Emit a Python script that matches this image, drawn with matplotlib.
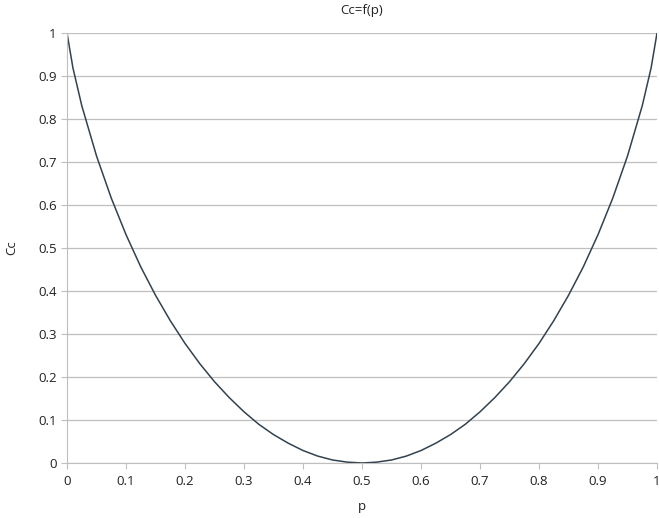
import matplotlib
matplotlib.use('Agg')
import matplotlib.pyplot as plt

# Valores
p = [0.0, 0.01, 0.025, 0.05, 0.075, 0.1, 0.125, 0.15, 0.175, 0.2, 0.225, 0.25,
     0.275, 0.3, 0.325, 0.35, 0.375, 0.4, 0.425, 0.45, 0.475, 0.5,
     0.525, 0.55, 0.575, 0.6, 0.625, 0.65, 0.675, 0.7, 0.725, 0.75,
     0.775, 0.8, 0.825, 0.85, 0.875, 0.9, 0.925, 0.95, 0.975, 0.99, 1.0]
cc = [1.0, 0.919, 0.831, 0.714, 0.616, 0.531, 0.456, 0.390, 0.331, 0.278, 0.231, 0.189,
      0.152, 0.119, 0.090, 0.066, 0.046, 0.029, 0.016, 0.007, 0.002, 0.0,
      0.002, 0.007, 0.016, 0.029, 0.046, 0.066, 0.090, 0.119, 0.152, 0.189,
      0.231, 0.278, 0.331, 0.390, 0.456, 0.531, 0.616, 0.714, 0.831, 0.919, 1.0]

xticks = [0, 0.1, 0.2, 0.3, 0.4, 0.5, 0.6, 0.7, 0.8, 0.9, 1]
yticks = [0, 0.1, 0.2, 0.3, 0.4, 0.5, 0.6, 0.7, 0.8, 0.9, 1]

plt.rcParams['font.family'] = ['Open Sans', 'DejaVu Sans']

fig = plt.figure(figsize=(6.59, 5.18), dpi=100)
ax = fig.add_axes([0.1017, 0.1062, 0.8953, 0.8301])

ax.plot(p, cc, color='#33424f', linewidth=1.1)

ax.set_xlim(0, 1)
ax.set_ylim(0, 1)
ax.set_xticks(xticks)
ax.set_yticks(yticks)
ax.set_xticklabels([f'{v:g}' for v in xticks])
ax.set_yticklabels([f'{v:g}' for v in yticks])

ax.grid(axis='y', color='#bfbfbf', linewidth=0.9)
ax.set_axisbelow(True)
for s in ['top', 'right']:
    ax.spines[s].set_visible(False)
ax.spines['left'].set_color('#bfbfbf')
ax.spines['bottom'].set_color('#bfbfbf')
ax.tick_params(axis='both', colors='#bfbfbf', labelcolor='#222222', labelsize=9.5, length=4)
ax.tick_params(axis='x', pad=5)

ax.set_title('Cc=f(p)', fontsize=9.5, color='#222222', pad=14)
ax.set_xlabel('p', fontsize=9.5, color='#222222', labelpad=8)
ax.set_ylabel('Cc', fontsize=9.5, color='#222222', labelpad=14)

fig.savefig('out.png', dpi=100)
